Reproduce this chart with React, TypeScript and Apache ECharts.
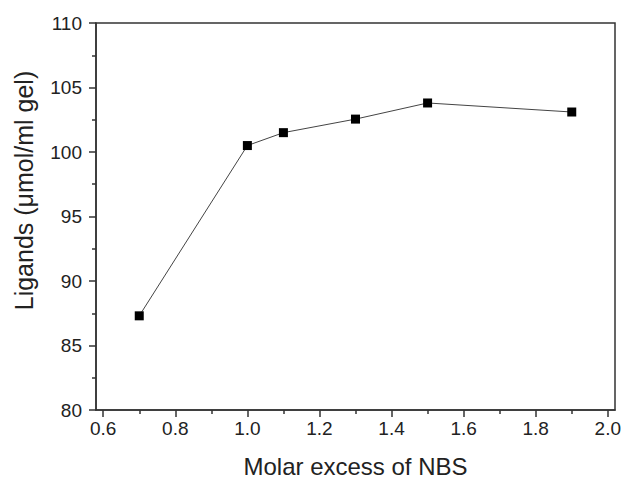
import React, { useEffect, useRef } from "react";
import * as echarts from "echarts";

const xValues = [0.7, 1.0, 1.1, 1.3, 1.5, 1.9];
const yValues = [87.3, 100.5, 101.5, 102.55, 103.8, 103.1];
const xMajorTicks = [0.6, 0.8, 1.0, 1.2, 1.4, 1.6, 1.8, 2.0];
const xMinorTicks = [0.7, 0.9, 1.1, 1.3, 1.5, 1.7, 1.9];
const xName = "Molar excess of NBS";
const yName = "Ligands (\u03bcmol/ml gel)";

export default function App() {
  const ref = useRef<HTMLDivElement>(null);
  useEffect(() => {
    if (!ref.current) return;
    const chart = echarts.init(ref.current, null, { renderer: "svg" });
    const font = "'Liberation Sans', Arial, sans-serif";
    chart.setOption({
      animation: false,
      backgroundColor: "#fff",
      grid: {
        left: 96,
        right: 9,
        top: 23,
        bottom: 70,
        containLabel: false,
        outerBoundsMode: "none",
        show: true,
        borderColor: "#333",
        borderWidth: 1.5,
        backgroundColor: "transparent",
      },
      xAxis: [
        {
          type: "value",
          min: 0.58,
          max: 2.02,
          name: xName,
          nameLocation: "middle",
          nameGap: 44,
          nameTextStyle: { fontFamily: font, fontSize: 24, color: "#222" },
          axisLine: { show: true, lineStyle: { color: "#333", width: 1.5 } },
          axisTick: {
            show: true,
            inside: false,
            length: 7,
            customValues: xMajorTicks,
            lineStyle: { color: "#333", width: 1.5 },
          },
          axisLabel: {
            customValues: xMajorTicks,
            formatter: (v: number) => v.toFixed(1),
            fontFamily: font,
            fontSize: 19,
            color: "#222",
            margin: 9,
          },
          splitLine: { show: false },
        },
        {
          type: "value",
          position: "bottom",
          min: 0.58,
          max: 2.02,
          axisLine: { show: false },
          axisTick: {
            show: true,
            length: 4,
            customValues: xMinorTicks,
            lineStyle: { color: "#333", width: 1.5 },
          },
          axisLabel: { show: false },
          splitLine: { show: false },
        },
      ],
      yAxis: {
        type: "value",
        min: 80,
        max: 110,
        interval: 5,
        name: yName,
        nameLocation: "middle",
        nameGap: 60,
        nameTextStyle: { fontFamily: font, fontSize: 25, color: "#222", padding: [0, 0, 0, 52] },
        axisLine: { show: true, lineStyle: { color: "#333", width: 1.5 } },
        axisTick: { show: true, length: 7, lineStyle: { color: "#333", width: 1.5 } },
        minorTick: { show: true, splitNumber: 2, length: 4, lineStyle: { color: "#333", width: 1.5 } },
        axisLabel: { fontFamily: font, fontSize: 19, color: "#222", margin: 14 },
        splitLine: { show: false },
      },
      series: [
        {
          type: "line",
          data: xValues.map((x, i) => [x, yValues[i]]),
          symbol: "rect",
          symbolSize: 9,
          itemStyle: { color: "#000" },
          lineStyle: { color: "#444", width: 1 },
        },
      ],
    });
    return () => chart.dispose();
  }, []);
  return <div ref={ref} style={{ width: 624, height: 480, position: "absolute", left: 0, top: 0 }} />;
}
